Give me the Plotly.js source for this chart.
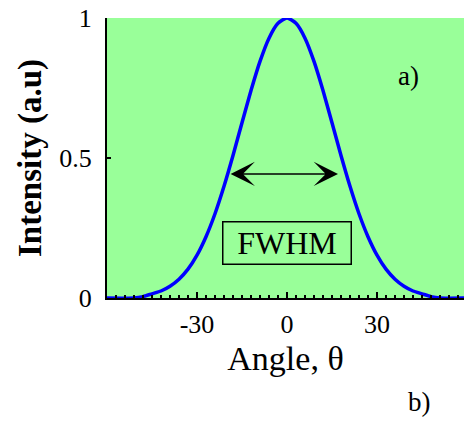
<!DOCTYPE html>
<html>
<head>
<meta charset="utf-8">
<script src="https://cdn.plot.ly/plotly-3.0.1.min.js"></script>
<style>html,body{margin:0;padding:0;background:#fff;}#chart{width:464px;height:421px;}</style>
</head>
<body>
<div id="chart"></div>
<script>
// Angle (degrees) and normalized intensity
const angles = [-60, -51, -48, -45, -42, -39, -36, -33, -30, -27, -24, -21, -18, -15, -12, -9, -6, -3, 0,
                3, 6, 9, 12, 15, 18, 21, 24, 27, 30, 33, 36, 39, 42, 45, 48, 51, 60];
const intensity = [0, 0, 0.005, 0.015, 0.025, 0.042, 0.067, 0.103, 0.153, 0.219, 0.301, 0.399, 0.509, 0.626, 0.741, 0.845, 0.928, 0.981, 1.0,
                   0.981, 0.928, 0.845, 0.741, 0.626, 0.509, 0.399, 0.301, 0.219, 0.153, 0.103, 0.067, 0.042, 0.025, 0.015, 0.005, 0, 0];
const xTickVals = [-60, -30, 0, 30];
const xTickText = ['', '-30', '0', '30'];
const yTickVals = [0, 0.5, 1];
const yTickText = ['0', '0.5', '1'];
const fwhmLeft = -19.3, fwhmRight = 17.0, fwhmLevel = 0.443;
const labelText = 'FWHM';

const serif = '"Liberation Serif", "Times New Roman", Tinos, "DejaVu Serif", serif';

const trace = {
  x: angles, y: intensity, type: 'scatter', mode: 'lines',
  line: {color: '#0000ff', width: 3.5, shape: 'spline', smoothing: 0.6},
  hoverinfo: 'skip'
};

const layout = {
  width: 464, height: 421,
  margin: {l: 107, r: 0, t: 18, b: 123},
  paper_bgcolor: '#ffffff',
  plot_bgcolor: '#99ff99',
  showlegend: false,
  font: {family: serif, color: '#000', size: 26},
  xaxis: {
    range: [-60, 59], showgrid: false, zeroline: false,
    showline: true, linecolor: '#000', linewidth: 2,
    tickmode: 'array', tickvals: xTickVals, ticktext: xTickText,
    ticks: 'inside', ticklen: 6, tickwidth: 1.5, tickcolor: '#000',
    minor: {dtick: 3, tick0: 0, ticks: 'inside', ticklen: 3, tickwidth: 1.5, tickcolor: '#000'},
    tickfont: {family: serif, size: 26, color: '#000'},
    ticklabelstandoff: 2,
    title: {text: 'Angle, θ', font: {family: serif, size: 34, color: '#000'}, standoff: 8}
  },
  yaxis: {
    range: [0, 1], showgrid: false, zeroline: false,
    showline: true, linecolor: '#000', linewidth: 2,
    tickmode: 'array', tickvals: yTickVals, ticktext: yTickText,
    ticks: 'inside', ticklen: 4, tickwidth: 1.5, tickcolor: '#000',
    tickfont: {family: serif, size: 26, color: '#000'},
    ticklabelstandoff: 8,
    title: {text: 'Intensity (a.u)', font: {family: serif, size: 33, color: '#000', weight: 'bold'}, standoff: 8}
  },
  annotations: [
    {x: fwhmRight, y: fwhmLevel, ax: fwhmLeft, ay: fwhmLevel, xref: 'x', yref: 'y', axref: 'x', ayref: 'y',
     text: '', showarrow: true, arrowside: 'end+start', arrowhead: 3, startarrowhead: 3,
     arrowsize: 2.7, startarrowsize: 2.7, arrowwidth: 1.5, arrowcolor: '#000'},
    {x: 0, y: 0.196, xref: 'x', yref: 'y', text: labelText, showarrow: false,
     font: {family: serif, size: 32, color: '#000'},
     bordercolor: '#000', borderwidth: 1.5, borderpad: 1, width: 125, height: 39},
    {x: 0.88, y: 0.855, xref: 'paper', yref: 'paper', text: 'a)', showarrow: false,
     font: {family: serif, size: 27, color: '#000'}},
    {x: 0.913, y: -0.432, xref: 'paper', yref: 'paper', text: 'b)', showarrow: false,
     font: {family: serif, size: 27, color: '#000'}}
  ]
};

Plotly.newPlot('chart', [trace], layout, {displayModeBar: false, staticPlot: true});
</script>
</body>
</html>
